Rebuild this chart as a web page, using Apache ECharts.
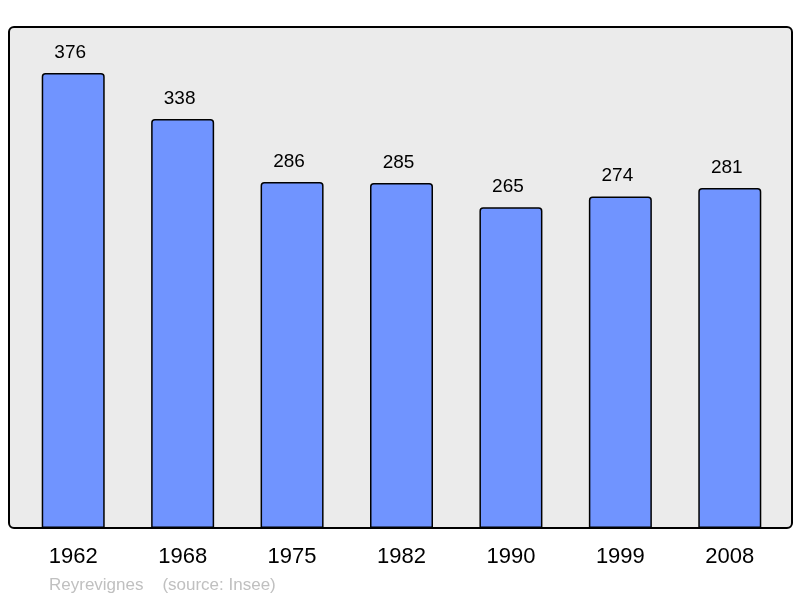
<!DOCTYPE html>
<html><head><meta charset="utf-8">
<script src="https://cdn.jsdelivr.net/npm/echarts@6/dist/echarts.min.js"></script>
<style>html,body{margin:0;padding:0;background:#fff}#c{width:800px;height:598px}</style>
</head><body><div id="c"></div>
<script>
const categories = ['1962','1968','1975','1982','1990','1999','2008'];
const population = [376, 338, 286, 285, 265, 274, 281];
const footer = 'Reyrevignes    (source: Insee)';

const chart = echarts.init(document.getElementById('c'), null, {renderer:'canvas'});
chart.setOption({
  animation: false,
  backgroundColor: '#ffffff',
  graphic: [
    {type:'rect', z:-10, shape:{x:9, y:27, width:783, height:501, r:5},
     style:{fill:'#ebebeb', stroke:'#000', lineWidth:2}},
    {type:'text', left:49, top:577, style:{text:footer, fill:'#c0c0c0', font:'17px "Liberation Sans", Arial, sans-serif'}}
  ],
  grid: {left:18.5, right:15.5, top:27, bottom:70, containLabel:false},
  xAxis: {
    type:'category', data:categories,
    axisLine:{show:false}, axisTick:{show:false},
    axisLabel:{color:'#000', fontSize:22, fontFamily:'"Liberation Sans", Arial, sans-serif', margin:18}
  },
  yAxis: {type:'value', min:0, max:414, show:false, splitLine:{show:false}},
  series: [{
    type:'bar', data:population, barWidth:63,
    itemStyle:{color:'#7094ff', borderColor:'#000', borderWidth:1.5, borderRadius:[3,3,0,0]},
    label:{show:true, position:'top', distance:11, offset:[-3,0], color:'#000', fontSize:19,
      fontFamily:'"Liberation Sans", Arial, sans-serif'}
  }]
});
</script></body></html>
